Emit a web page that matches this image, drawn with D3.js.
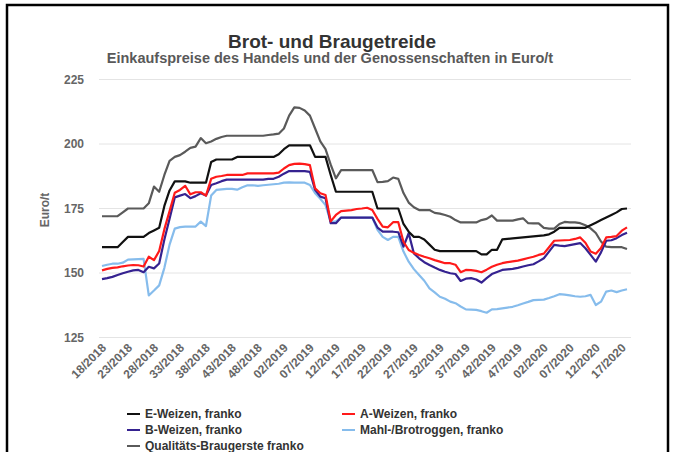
<!DOCTYPE html>
<html>
<head>
<meta charset="utf-8">
<script src="https://cdn.jsdelivr.net/npm/d3@7"></script>
<style>
  body { margin: 0; background: #fff; }
  svg { font-family: "Liberation Sans", Arial, sans-serif; display: block; }
  .grid line { stroke: #e4e4e4; stroke-width: 1; }
  .axis text { fill: #666; font-weight: bold; }
  .axis path, .axis line { display: none; }
</style>
</head>
<body>
<svg id="chart"></svg>
<script>
// week labels (some weeks around new year are missing in the source)
const weeks = [
  "18/2018","19/2018","20/2018","21/2018","22/2018","23/2018","24/2018","25/2018","26/2018","27/2018",
  "28/2018","29/2018","30/2018","31/2018","32/2018","33/2018","34/2018","35/2018","36/2018","37/2018",
  "38/2018","39/2018","40/2018","41/2018","42/2018","43/2018","44/2018","45/2018","46/2018","47/2018",
  "48/2018","49/2018","50/2018","51/2018","52/2018",
  "02/2019","03/2019","04/2019","05/2019","06/2019","07/2019","08/2019","09/2019","10/2019","11/2019",
  "12/2019","13/2019","14/2019","15/2019","16/2019","17/2019","18/2019","19/2019","20/2019","21/2019",
  "22/2019","23/2019","24/2019","25/2019","26/2019","27/2019","28/2019","29/2019","30/2019","31/2019",
  "32/2019","33/2019","34/2019","35/2019","36/2019","37/2019","38/2019","39/2019","40/2019","41/2019",
  "42/2019","43/2019","44/2019","45/2019","46/2019","47/2019","48/2019","49/2019","50/2019","51/2019",
  "02/2020","03/2020","04/2020","05/2020","06/2020","07/2020","08/2020","09/2020","10/2020","11/2020",
  "12/2020","13/2020","14/2020","15/2020","16/2020","17/2020","18/2020"
];

const yTicks = [125, 150, 175, 200, 225];

const eWeizen = [
  160,160,160,160,162,164,164,164,164,165.5,
  166.5,167.5,176,182,185.5,185.5,185.5,185,185,185,
  185,193,194,194,194,194,195,195,195,195,
  195,195,195,195,196,198,199.5,199.5,199.5,199.5,
  199.5,195,195,195,188,181.5,181.5,181.5,181.5,181.5,
  181.5,181.5,181.5,175,175,175,175,175,169,166,
  164,164,163,161,159,158.5,158.5,158.5,158.5,158.5,
  158.5,158.5,158.5,157.2,157.2,159,159,163,163.2,163.4,
  163.6,163.8,164,164.2,164.4,164.6,165,166,167.5,167.5,
  167.5,167.5,167.5,167.5,168.5,169.5,170.5,171.5,172.5,173.5,
  174.8,175
];

const aWeizen = [
  151,151.6,152,152.2,152.6,152.9,153.1,153,152.5,156.3,
  155,158.5,167,174,181.1,182.2,183.8,180.5,181.3,181.3,
  180,186.5,187.3,187.6,188,188,188,188,188.6,188.6,
  188.6,188.6,188.6,188.6,188.9,190.5,191.8,192.3,192.4,192.2,
  191.8,182.8,180.9,180.2,170,172.5,174,174.2,174.4,174.8,
  175,175.3,174.4,171,168,167.7,169.7,169.7,162.1,158.9,
  157.8,157,156.3,155.7,155,154.4,153.8,153.8,153.2,150.3,
  151.2,151.1,150.8,150.3,151.3,152.4,153.2,153.8,154.2,154.5,
  154.8,155.3,155.8,156.3,157,157.5,160,162.5,162.6,162.7,
  162.8,163.2,163.8,161.7,158.3,157.5,159.7,163.8,164,164.3,
  166.4,167.7
];

const bWeizen = [
  147.6,148,148.5,149.2,149.9,150.5,151,151.2,150.3,152.4,
  151.8,153.7,163,171,179.3,180,180.6,179,179.8,180.9,
  180,184.1,184.8,185.6,186.2,186.2,186.2,186.2,186.2,186.2,
  186.2,186.2,186.5,186.5,187.3,188.5,189.5,189.5,189.5,189.5,
  189.2,182.2,179.6,179,169.3,169.3,171.5,171.5,171.5,171.5,
  171.5,171.5,171.5,167.6,166,166,166,165.8,160.2,165.4,
  157.6,155.7,154.2,153.1,152.1,151.2,150.5,149.9,149.6,146.9,
  147.8,148,147.5,146.3,148,149.6,150.4,151.2,151.4,151.6,
  152,152.5,153,153.4,154.5,155.7,158.3,160.9,160.6,160.4,
  160.8,161.2,161.6,159.6,157,154.4,158,162.5,162.7,163.5,
  164.7,165.6
];

const roggen = [
  152.7,153.2,153.6,153.6,154,155.2,155.3,155.4,155.5,141.3,
  143.2,145.2,152,161,167.2,167.8,168,168,168,169.9,
  168.2,180,182.2,182.4,182.6,182.6,182.3,183.2,184,184,
  183.8,184,184.2,184.4,184.6,185,185.1,185,185,185,
  184.1,180.9,178.8,176.3,169.9,170,171.5,171.5,171.5,171.5,
  171.5,171.5,171.5,166.7,164,162.8,164,164,158.3,154.4,
  151.5,149.2,147,144,142.5,140.8,140,138.9,138.3,137,
  135.9,135.8,135.7,135.2,134.6,135.9,136,136.3,136.6,136.9,
  137.5,138.2,138.8,139.5,139.6,139.7,140.3,141,141.8,141.6,
  141.3,141,140.8,141,141.5,137.6,138.9,142.8,143.2,142.6,
  143.2,143.7
];

const braugerste = [
  172,172,172,172,173.5,175,175,175,175,177,
  183.5,181.5,188,193.5,195,195.7,197,198.5,199,202.3,
  200.3,201,202,202.7,203.2,203.2,203.2,203.2,203.2,203.2,
  203.2,203.2,203.5,203.7,204,206,211,214.2,214,213,
  211,206,201,198,192,186.7,189.9,189.9,189.9,189.9,
  189.9,189.9,189.9,185.2,185.3,185.6,187,186.5,181,177.3,
  175.5,174.4,174.4,174.4,173.3,173,172.5,171.8,170.5,169.6,
  169.6,169.6,169.6,170.5,171,172.3,170.3,170.3,170.3,170.3,
  170.8,171.2,169.3,169.2,169.2,167.5,167.2,167.2,169,169.8,
  169.6,169.6,169.3,168.5,167.3,165.5,162.2,160.2,160,160,
  160,159.3
];

const seriesNames = [
  "E-Weizen, franko",
  "A-Weizen, franko",
  "B-Weizen, franko",
  "Mahl-/Brotroggen, franko",
  "Qualitäts-Braugerste franko"
];
const seriesValues = [eWeizen, aWeizen, bWeizen, roggen, braugerste];
const seriesColors = ["#111111", "#ff1a1a", "#352290", "#86bcec", "#5a5a5a"];

const width = 675, height = 452;

const svg = d3.select("#chart").attr("width", width).attr("height", height);

// frame around the picture
svg.append("rect")
  .attr("x", 7).attr("y", 5)
  .attr("width", 661).attr("height", 470)
  .attr("fill", "none").attr("stroke", "#000").attr("stroke-width", 2.5);

const xScale = d3.scalePoint().domain(weeks).range([102, 627]);
const yScale = d3.scaleLinear().domain([125, 225]).range([337.5, 79.5]);

// titles
svg.append("text")
  .attr("x", 332).attr("y", 48)
  .attr("text-anchor", "middle")
  .attr("font-size", "19px").attr("font-weight", "bold").attr("fill", "#333")
  .text("Brot- und Braugetreide");

svg.append("text")
  .attr("x", 330).attr("y", 63)
  .attr("text-anchor", "middle")
  .attr("font-size", "14.5px").attr("font-weight", "bold").attr("fill", "#595959")
  .text("Einkaufspreise des Handels und der Genossenschaften in Euro/t");

// gridlines
svg.append("g").attr("class", "grid")
  .selectAll("line")
  .data(yTicks)
  .join("line")
  .attr("x1", 99).attr("x2", 631)
  .attr("y1", d => yScale(d)).attr("y2", d => yScale(d));

// axes
const yAxisGroup = svg.append("g")
  .attr("class", "axis y-axis")
  .attr("transform", "translate(84,0)")
  .call(d3.axisLeft(yScale).tickValues(yTicks).tickSize(0).tickPadding(0));
yAxisGroup.selectAll("text").attr("font-size", "12px");

const xAxisGroup = svg.append("g")
  .attr("class", "axis x-axis")
  .attr("transform", "translate(0,347)")
  .call(d3.axisBottom(xScale)
    .tickValues(weeks.filter((d, i) => i % 5 === 0))
    .tickSize(0));
xAxisGroup.selectAll("text")
  .attr("font-size", "12px")
  .attr("text-anchor", "end")
  .attr("x", 2).attr("y", 0).attr("dy", "0.35em")
  .attr("transform", "rotate(-45)");

svg.append("text")
  .attr("transform", "translate(49,210) rotate(-90)")
  .attr("text-anchor", "middle")
  .attr("font-size", "12px").attr("font-weight", "bold").attr("fill", "#666")
  .text("Euro/t");

// lines, drawn back to front
const line = d3.line()
  .x((d, i) => xScale(weeks[i]))
  .y(d => yScale(d));

const drawOrder = [4, 3, 2, 1, 0];
svg.append("g")
  .selectAll("path")
  .data(drawOrder)
  .join("path")
  .attr("fill", "none")
  .attr("stroke", k => seriesColors[k])
  .attr("stroke-width", 2.2)
  .attr("stroke-linejoin", "round")
  .attr("d", k => line(seriesValues[k]));

// legend, two columns
const legendItems = seriesNames.map((name, k) => ({
  name, color: seriesColors[k],
  x: k % 2 === 0 ? 127 : 342,
  y: 414 + Math.floor(k / 2) * 16
}));

const legend = svg.append("g").selectAll("g")
  .data(legendItems)
  .join("g")
  .attr("transform", d => `translate(${d.x},${d.y})`);

legend.append("line")
  .attr("x1", 0).attr("x2", 13)
  .attr("stroke", d => d.color).attr("stroke-width", 2);

legend.append("text")
  .attr("x", 18).attr("dy", "0.35em")
  .attr("font-size", "12px").attr("font-weight", "bold").attr("fill", "#333")
  .text(d => d.name);
</script>
</body>
</html>
